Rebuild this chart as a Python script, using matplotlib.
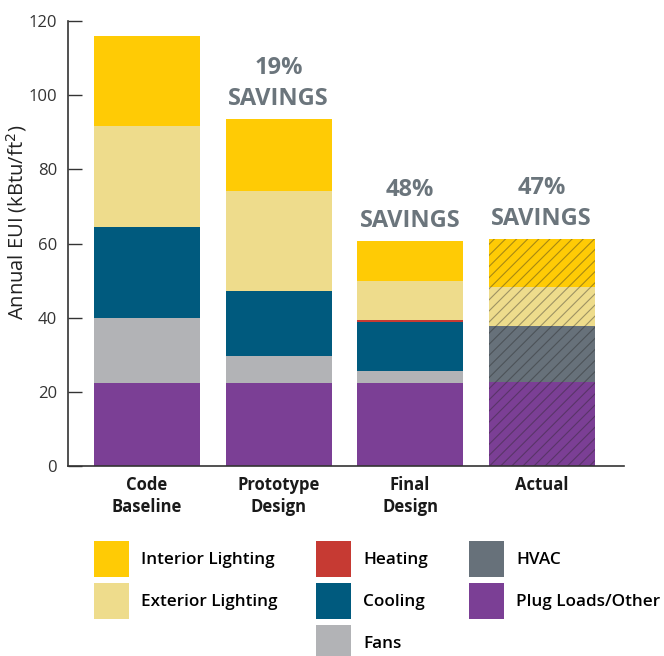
import matplotlib
matplotlib.use('Agg')
from matplotlib import pyplot as plt
from matplotlib.patches import Patch
import numpy as np

plt.rcParams['font.family'] = ['Open Sans', 'DejaVu Sans']
plt.rcParams['hatch.linewidth'] = 0.8

########
# DATA #
########

categories = ['Code\nBaseline', 'Prototype\nDesign', 'Final\nDesign', 'Actual']

# kBtu/ft2 per end use (bottom to top)
plug_loads = [22.4, 22.4, 22.4, 22.7]
fans = [17.5, 7.3, 3.2, 0.0]
cooling = [24.5, 17.5, 13.3, 0.0]
heating = [0.0, 0.0, 0.6, 0.0]
hvac = [0.0, 0.0, 0.0, 15.1]
exterior_lighting = [27.4, 27.0, 10.4, 10.5]
interior_lighting = [24.2, 19.4, 10.8, 12.9]

savings_labels = ['', '19%\nSAVINGS', '48%\nSAVINGS', '47%\nSAVINGS']
measured = [False, False, False, True]   # hatched bar = measured data

yticks = [0, 20, 40, 60, 80, 100, 120]

colors = {'Interior Lighting': '#FFCB05',
          'Exterior Lighting': '#EEDC8C',
          'Heating': '#C63A33',
          'Cooling': '#005A7E',
          'Fans': '#B2B3B6',
          'HVAC': '#67717A',
          'Plug Loads/Other': '#7B3F95'}

stack = [('Plug Loads/Other', plug_loads),
         ('Fans', fans),
         ('Cooling', cooling),
         ('Heating', heating),
         ('HVAC', hvac),
         ('Exterior Lighting', exterior_lighting),
         ('Interior Lighting', interior_lighting)]

########
# PLOT #
########

fig = plt.figure(figsize=(6.64, 6.56), dpi=100)
ax = fig.add_axes([68/664, 190/656, (624-68)/664, 445/656])

x = np.arange(len(categories))
bottom = np.zeros(len(categories))
for name, vals in stack:
    vals = np.array(vals)
    for i in range(len(x)):
        if vals[i] <= 0:
            continue
        ax.bar(x[i], vals[i], bottom=bottom[i], width=0.806,
               color=colors[name], linewidth=0,
               hatch='///' if measured[i] else None,
               edgecolor=(0.15, 0.15, 0.15, 0.4) if measured[i] else 'none')
    bottom += vals

# savings labels above bars
for i in range(len(x)):
    if savings_labels[i]:
        ax.annotate(savings_labels[i], xy=(x[i], bottom[i]),
                    xytext=(0, 6), textcoords='offset points',
                    ha='center', va='bottom', fontsize=17,
                    fontweight='bold', color='#6B757C', linespacing=1.35)

ax.set_xlim(-0.601, 3.627)
ax.set_ylim(0, 120)
ax.set_yticks(yticks)
ax.set_xticks(x)
ax.set_xticklabels(categories, fontsize=12, fontweight='bold',
                   color='#1a1a1a', linespacing=1.3)
ax.tick_params(axis='x', length=0, pad=7)
ax.tick_params(axis='y', direction='in', length=10, width=1,
               color='#333333', labelsize=12, labelcolor='#333333', pad=8)
for s in ['top', 'right']:
    ax.spines[s].set_visible(False)
for s in ['left', 'bottom']:
    ax.spines[s].set_color('#333333')
    ax.spines[s].set_linewidth(1.2)
ax.set_ylabel('Annual EUI (kBtu/ft$^2$)', fontsize=14.5, color='#222222',
              va='center')
ax.yaxis.set_label_coords(-0.092, 0.548)

##########
# LEGEND #
##########

legend_cols = [(['Interior Lighting', 'Exterior Lighting'], 94),
               (['Heating', 'Cooling', 'Fans'], 316),
               (['HVAC', 'Plug Loads/Other'], 469)]
for names, xpix in legend_cols:
    handles = [Patch(facecolor=colors[n], edgecolor='none', label=n)
               for n in names]
    fig.legend(handles=handles, loc='upper left',
               bbox_to_anchor=(xpix/664, 1 - 541/656),
               frameon=False,
               prop={'weight': 'semibold', 'size': 12.3},
               handlelength=2.05, handleheight=2.85,
               handletextpad=0.7, labelspacing=0.35, borderpad=0,
               borderaxespad=0)

plt.savefig('out.png', dpi=100)
plt.close()
